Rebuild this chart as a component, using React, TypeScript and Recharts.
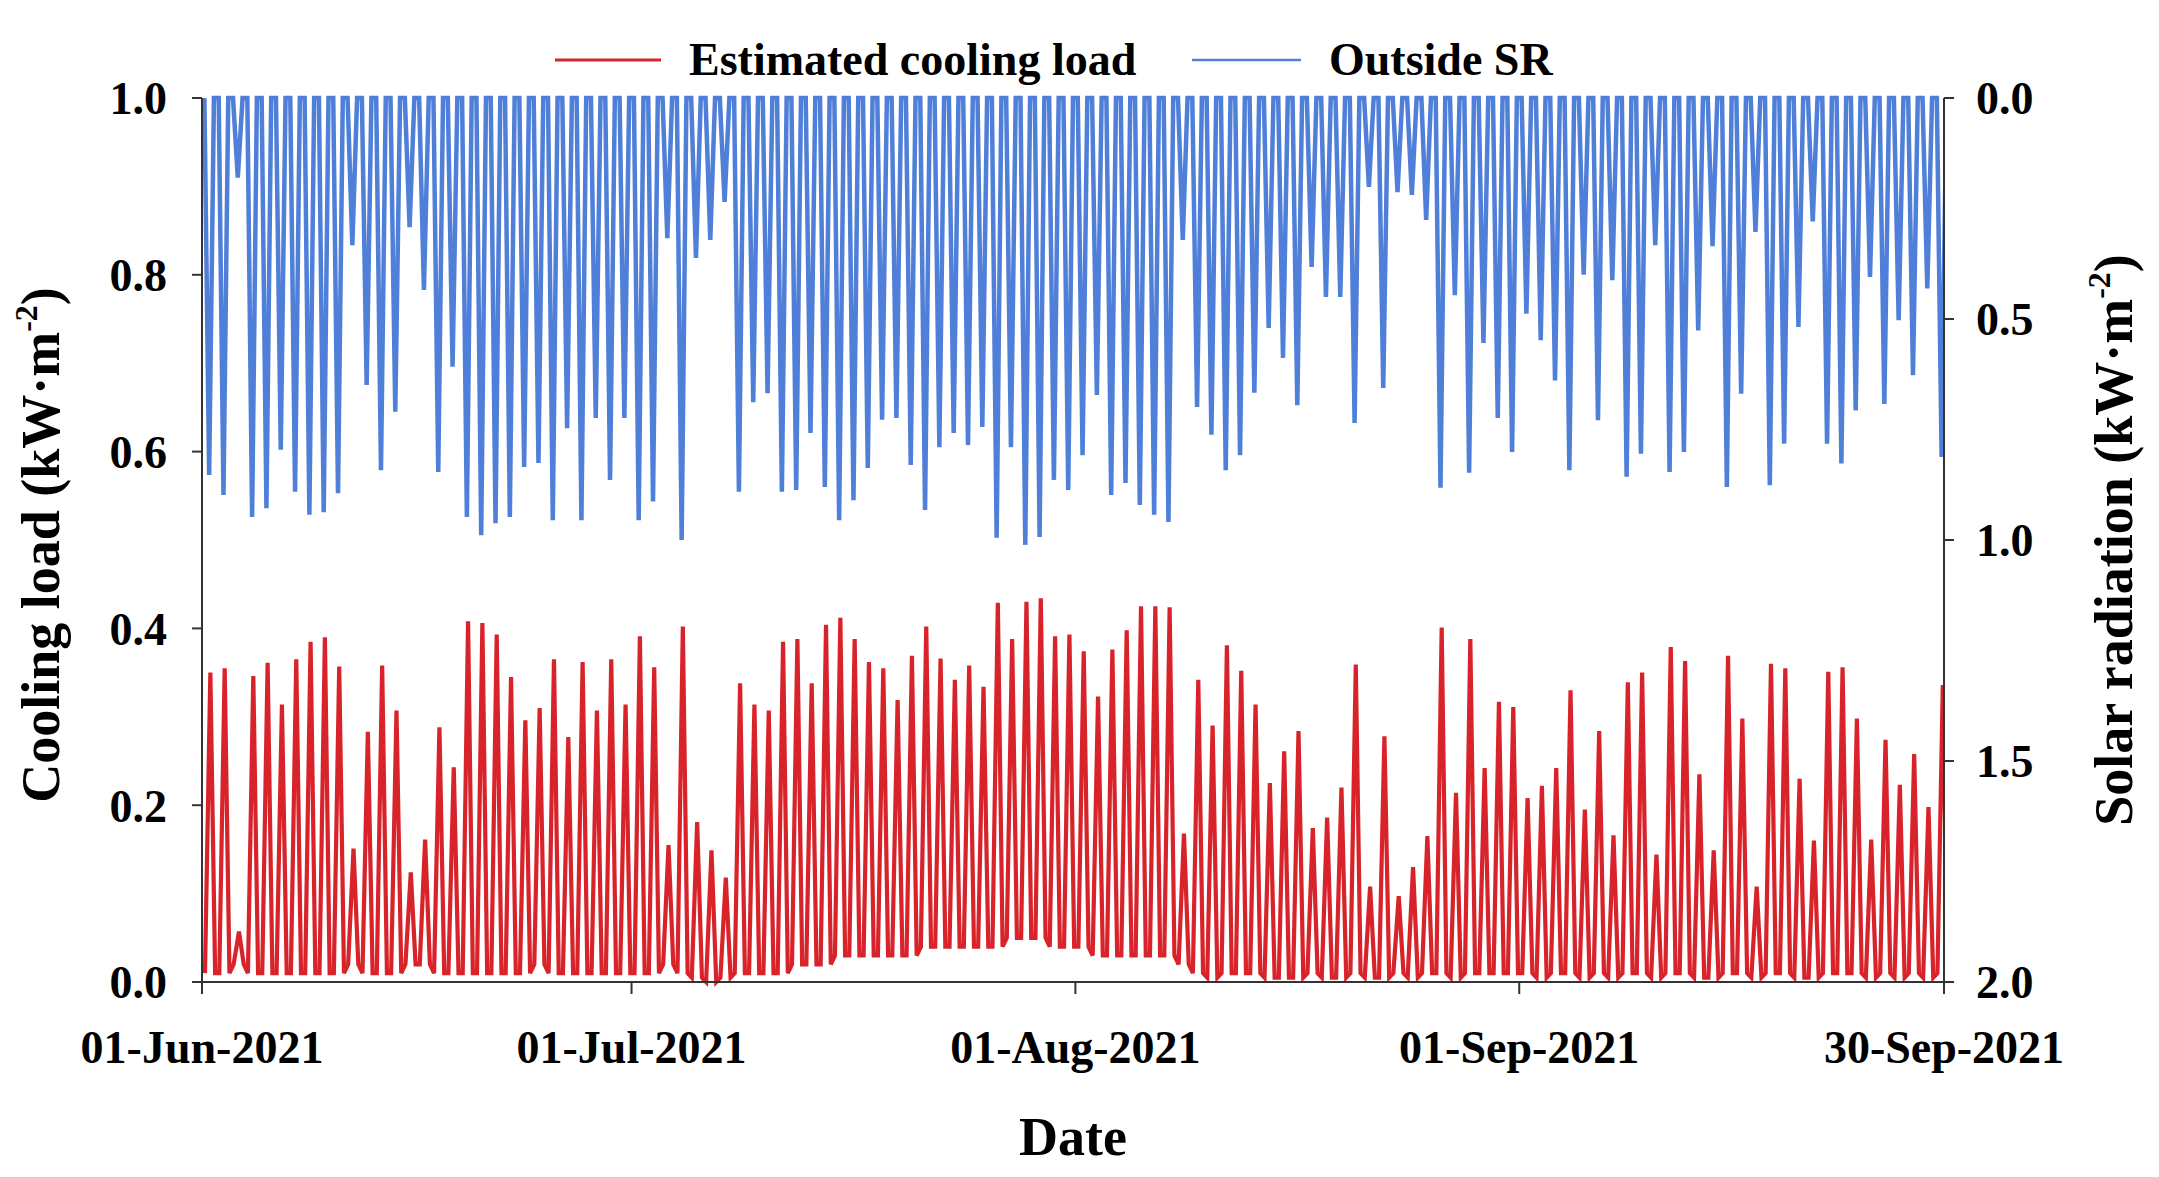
import React from "react";
import { LineChart, Line, XAxis, YAxis, Legend } from "recharts";

// daily peak of estimated cooling load (kW·m-2), 01-Jun .. 30-Sep 2021
const loadPeak = [
  // Jun
  0.350, 0.355, 0.057, 0.346, 0.361, 0.314, 0.365, 0.385, 0.390, 0.357,
  0.151, 0.283, 0.358, 0.307, 0.124, 0.161, 0.288, 0.243, 0.408, 0.406,
  0.393, 0.345, 0.296, 0.310, 0.365, 0.277, 0.362, 0.307, 0.365, 0.314,
  // Jul
  0.391, 0.356, 0.155, 0.402, 0.181, 0.149, 0.118, 0.338, 0.314, 0.307,
  0.385, 0.388, 0.338, 0.404, 0.412, 0.388, 0.362, 0.355, 0.319, 0.369,
  0.402, 0.366, 0.342, 0.358, 0.334, 0.429, 0.388, 0.430, 0.434, 0.391, 0.393,
  // Aug
  0.374, 0.323, 0.376, 0.398, 0.425, 0.425, 0.424, 0.168, 0.342, 0.290,
  0.381, 0.352, 0.314, 0.225, 0.261, 0.284, 0.174, 0.186, 0.220, 0.359,
  0.108, 0.278, 0.097, 0.130, 0.165, 0.401, 0.214, 0.388, 0.242, 0.317, 0.311,
  // Sep
  0.208, 0.222, 0.242, 0.330, 0.195, 0.284, 0.166, 0.339, 0.350, 0.144,
  0.379, 0.363, 0.235, 0.149, 0.369, 0.298, 0.108, 0.360, 0.355, 0.230,
  0.160, 0.351, 0.356, 0.298, 0.161, 0.274, 0.223, 0.258, 0.198, 0.336,
];

// night-time floor of the cooling load
const loadBase = [
  0.01, 0.01, 0.02, 0.01, 0.01, 0.01, 0.01, 0.01, 0.01, 0.01,
  0.02, 0.01, 0.01, 0.01, 0.02, 0.02, 0.01, 0.01, 0.01, 0.01,
  0.01, 0.01, 0.01, 0.02, 0.01, 0.01, 0.01, 0.01, 0.01, 0.01,
  0.01, 0.01, 0.02, 0.01, 0.005, 0.0, 0.005, 0.01, 0.01, 0.01,
  0.01, 0.02, 0.02, 0.02, 0.03, 0.03, 0.03, 0.03, 0.03, 0.03,
  0.04, 0.04, 0.04, 0.04, 0.04, 0.04, 0.05, 0.05, 0.05, 0.04, 0.04,
  0.04, 0.03, 0.03, 0.03, 0.03, 0.03, 0.03, 0.02, 0.01, 0.005,
  0.01, 0.01, 0.01, 0.005, 0.005, 0.005, 0.01, 0.005, 0.005, 0.01,
  0.005, 0.005, 0.01, 0.005, 0.01, 0.01, 0.005, 0.01, 0.01, 0.01, 0.01,
  0.01, 0.005, 0.01, 0.01, 0.005, 0.01, 0.005, 0.01, 0.01, 0.005,
  0.01, 0.01, 0.005, 0.005, 0.01, 0.01, 0.005, 0.01, 0.01, 0.005,
  0.005, 0.01, 0.01, 0.01, 0.005, 0.01, 0.005, 0.01, 0.005, 0.01,
];

// daily peak of outside solar radiation (kW·m-2)
const srPeak = [
  // Jun
  0.853, 0.898, 0.180, 0.948, 0.928, 0.796, 0.891, 0.943, 0.937, 0.894,
  0.333, 0.649, 0.842, 0.710, 0.292, 0.434, 0.846, 0.608, 0.948, 0.989,
  0.962, 0.948, 0.835, 0.826, 0.955, 0.747, 0.955, 0.724, 0.864, 0.724,
  // Jul
  0.955, 0.913, 0.317, 1.000, 0.362, 0.321, 0.235, 0.891, 0.688, 0.668,
  0.891, 0.887, 0.758, 0.880, 0.955, 0.910, 0.837, 0.728, 0.724, 0.830,
  0.932, 0.790, 0.758, 0.785, 0.744, 0.995, 0.790, 1.011, 0.993, 0.864, 0.887,
  // Aug
  0.808, 0.672, 0.898, 0.871, 0.921, 0.943, 0.959, 0.321, 0.699, 0.762,
  0.842, 0.808, 0.667, 0.520, 0.588, 0.695, 0.382, 0.450, 0.450, 0.735,
  0.201, 0.656, 0.213, 0.219, 0.276, 0.882, 0.446, 0.848, 0.554, 0.724, 0.801,
  // Sep
  0.488, 0.548, 0.639, 0.842, 0.400, 0.729, 0.412, 0.857, 0.805, 0.333,
  0.846, 0.801, 0.526, 0.335, 0.880, 0.669, 0.303, 0.876, 0.782, 0.518,
  0.279, 0.782, 0.827, 0.707, 0.405, 0.692, 0.503, 0.627, 0.431, 0.812,
];

// x axis in hours since 01-Jun-2021 00:00
const tickHours = [0, 720, 1464, 2208, 2920];
const tickLabels = ["01-Jun-2021", "01-Jul-2021", "01-Aug-2021", "01-Sep-2021", "30-Sep-2021"];
const loadTicks = [0, 0.2, 0.4, 0.6, 0.8, 1.0];
const srTicks = [0, 0.5, 1.0, 1.5, 2.0];
const seriesNames = ["Estimated cooling load", "Outside SR"];

const RED = "#d8232a";
const BLUE = "#4f7fd8";
const FONT = "'Liberation Serif', 'Times New Roman', serif";

const loadRows = loadPeak.flatMap((v, d) => [
  { h: d * 24 + 5, load: loadBase[d] },
  { h: d * 24 + 14, load: v },
  { h: d * 24 + 22, load: loadBase[d] },
]);

const srRows = srPeak.flatMap((v, d) => [
  { h: d * 24 + 4, sr: 0 },
  { h: d * 24 + 12, sr: v },
  { h: d * 24 + 20, sr: 0 },
]);

const tickStyle = { fill: "#000", fontSize: 46, fontWeight: "bold", fontFamily: FONT };
const axisStroke = { stroke: "#333", strokeWidth: 2 };

const DateLabel = (props: any) => {
  const vb = props.viewBox;
  return (
    <text x={vb.x + vb.width / 2} y={vb.y + 173} textAnchor="middle"
      fontSize={54} fontWeight="bold" fontFamily={FONT} fill="#000">
      Date
    </text>
  );
};

const RotTitle = ({ px, py, text }: { px: number; py: number; text: string }) => (
  <text transform={`translate(${px}, ${py}) rotate(-90)`} x={0} y={0} textAnchor="middle"
    fontSize={54} fontWeight="bold" fontFamily={FONT} fill="#000">
    {text} (kW·m<tspan dy={-22} fontSize={32}>-2</tspan><tspan dy={22}>)</tspan>
  </text>
);

const LegendBox = () => (
  <div style={{ position: "relative", height: 60, fontFamily: FONT, fontWeight: "bold", fontSize: 46, color: "#000" }}>
    <svg style={{ position: "absolute", left: 555, top: 27 }} width={106} height={6}>
      <line x1={0} y1={3} x2={106} y2={3} stroke={RED} strokeWidth={3} />
    </svg>
    <span style={{ position: "absolute", left: 689, top: 0, lineHeight: "60px", whiteSpace: "nowrap" }}>{seriesNames[0]}</span>
    <svg style={{ position: "absolute", left: 1192, top: 27 }} width={109} height={6}>
      <line x1={0} y1={3} x2={109} y2={3} stroke={BLUE} strokeWidth={2.5} />
    </svg>
    <span style={{ position: "absolute", left: 1329, top: 0, lineHeight: "60px", whiteSpace: "nowrap" }}>{seriesNames[1]}</span>
  </div>
);

export default function App() {
  return (
    <div style={{ position: "absolute", left: 0, top: 0, width: 2159, height: 1177, background: "#fff" }}>
      <LineChart width={2159} height={1177} margin={{ top: 98, right: 95, bottom: 105, left: 82 }}>
        <XAxis type="number" dataKey="h" domain={[0, 2920]} ticks={tickHours} interval={0}
          allowDataOverflow height={90} tickSize={12} tickMargin={36}
          tickFormatter={(v: number) => tickLabels[tickHours.indexOf(v)]}
          tick={tickStyle} axisLine={axisStroke} tickLine={axisStroke} label={<DateLabel />} />
        <YAxis yAxisId="load" domain={[0, 1]} ticks={loadTicks} interval={0} width={120}
          tickSize={10} tickMargin={25} tickFormatter={(v: number) => v.toFixed(1)}
          tick={tickStyle} axisLine={axisStroke} tickLine={axisStroke}
          label={<RotTitle px={59} py={545} text="Cooling load" />} />
        <YAxis yAxisId="sr" orientation="right" reversed domain={[0, 2]} ticks={srTicks} interval={0}
          width={120} tickSize={10} tickMargin={22} tickFormatter={(v: number) => v.toFixed(1)}
          tick={tickStyle} axisLine={axisStroke} tickLine={axisStroke}
          label={<RotTitle px={2132} py={540} text="Solar radiation" />} />
        <Legend verticalAlign="middle" align="center" content={<LegendBox />}
          wrapperStyle={{ top: 30, left: 0, width: 2159, height: 60 }} />
        <Line yAxisId="load" data={loadRows} dataKey="load" name={seriesNames[0]} type="linear"
          stroke={RED} strokeWidth={4.2} dot={false} isAnimationActive={false} />
        <Line yAxisId="sr" data={srRows} dataKey="sr" name={seriesNames[1]} type="linear"
          stroke={BLUE} strokeWidth={4.5} dot={false} isAnimationActive={false} />
      </LineChart>
    </div>
  );
}
